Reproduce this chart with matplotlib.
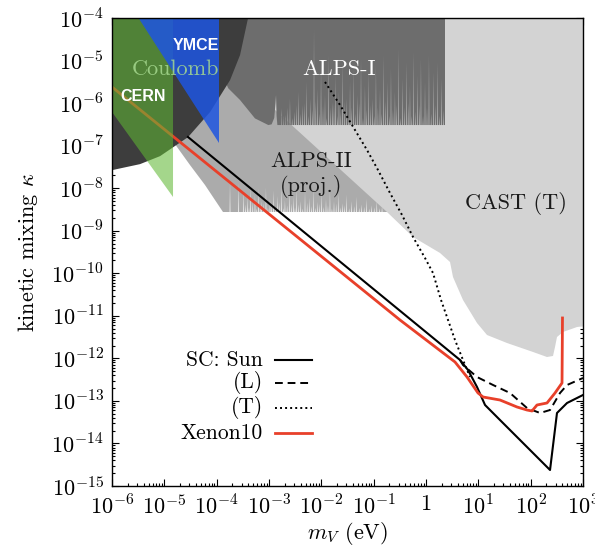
import numpy as np
import matplotlib
matplotlib.use("Agg")
import matplotlib.pyplot as plt
from matplotlib.ticker import FixedLocator, FixedFormatter, NullFormatter

plt.rcParams['mathtext.fontset'] = 'cm'
plt.rcParams['font.family'] = ['cmr10', 'DejaVu Serif']
plt.rcParams['axes.unicode_minus'] = False
plt.rcParams['axes.formatter.use_mathtext'] = True

# ---------------- data (all values are log10) ----------------
x_tick_exp = [-6, -5, -4, -3, -2, -1, 0, 1, 2, 3]
x_tick_labels = [r'$10^{-6}$', r'$10^{-5}$', r'$10^{-4}$', r'$10^{-3}$', r'$10^{-2}$',
                 r'$10^{-1}$', r'$1$', r'$10^{1}$', r'$10^{2}$', r'$10^{3}$']
y_tick_exp = [-15, -14, -13, -12, -11, -10, -9, -8, -7, -6, -5, -4]
y_tick_labels = [r'$10^{-15}$', r'$10^{-14}$', r'$10^{-13}$', r'$10^{-12}$', r'$10^{-11}$',
                 r'$10^{-10}$', r'$10^{-9}$', r'$10^{-8}$', r'$10^{-7}$', r'$10^{-6}$',
                 r'$10^{-5}$', r'$10^{-4}$']

# Sun stellar cooling, solid
sun_logm = [-4.548, 0.650, 0.803, 0.975, 1.128, 1.414, 1.930, 2.370, 2.503, 2.695, 3.0]
sun_logk = [-6.797, -12.038, -12.274, -12.673, -13.096, -13.449, -14.083, -14.624, -13.284, -13.049, -12.861]
# (L) dashed
sunL_logm = [0.650, 0.707, 0.975, 1.281, 1.606, 1.930, 2.179, 2.370, 2.561, 2.695, 3.0]
sunL_logk = [-12.038, -12.156, -12.438, -12.626, -12.814, -13.167, -13.284, -13.214, -12.814, -12.626, -12.461]
# (T) dotted
sunT_logm = [-1.930, -1.643, -1.357, -1.127, -0.917, -0.688, -0.458, -0.248, -0.019, 0.134,
             0.287, 0.401, 0.554, 0.707, 0.841]
sunT_logk = [-5.504, -6.045, -6.632, -7.103, -7.573, -8.113, -8.630, -9.147, -9.641, -9.994,
             -10.628, -11.028, -11.568, -12.038, -12.438]
# Xenon10
xenon_logm = [-6.0, -0.497, 0.554, 0.784, 0.994, 1.090, 1.414, 1.739, 1.930, 2.026, 2.121,
              2.312, 2.465, 2.599, 2.608]
xenon_logk = [-5.622, -11.098, -12.085, -12.438, -12.814, -12.908, -12.979, -13.143, -13.214,
              -13.237, -13.096, -13.049, -12.814, -12.579, -11.051]

# Coulomb (dark region)
coulomb_logm = [-6.3, -6.0, -5.465, -5.082, -4.547, -4.126, -3.744, -3.553, -3.40, -3.30, -6.3]
coulomb_logk = [-7.65, -7.576, -7.435, -7.247, -6.80, -6.21, -5.46, -4.87, -4.0, -3.5, -3.5]
# CERN (green)
cern_logm = [-6.3, -4.834, -4.834, -6.3]
cern_logk = [-3.5, -3.5, -8.207, -5.695]
# YMCE (blue)
ymce_logm = [-5.744, -3.955, -3.955]
ymce_logk = [-3.5, -3.5, -6.938]
# CAST (T)
cast_logm = [-5.26, 3.2, 3.2, 2.886, 2.618, 2.503, 2.465, 2.427, 2.312, 2.045, 1.548, 1.166,
             0.975, 0.707, 0.516, 0.459, 0.268, -0.248, -0.745, -2.465]
cast_logk = [-3.5, -3.5, -11.216, -11.263, -11.380, -11.498, -11.733, -11.944, -11.968, -11.850,
             -11.639, -11.451, -11.169, -10.628, -10.088, -9.735, -9.523, -9.147, -8.560, -6.632]

# ALPS-I
alps1_edge_logm = [-4.318, -4.032, -3.777, -3.554, -3.268, -3.013, -2.95, -2.90, -2.875, -2.866, -2.855, -2.84]
alps1_edge_logk = [-3.5, -4.987, -5.654, -5.927, -6.36, -6.516, -6.50, -6.35, -6.0, -5.811, -6.3, -6.516]
alps1_floor = -6.516
alps1_end = 0.363
alps1_spike_logm = [-2.758, -2.682, -2.599, -2.516, -2.440, -2.363, -2.280, -2.204, -2.140, -2.070,
                    -2.006, -1.930, -1.866, -1.790, -1.726, -1.663, -1.592, -1.516, -1.452, -1.389,
                    -1.306, -1.242, -1.166, -1.102, -1.026, -0.956, -0.879, -0.815, -0.733, -0.669,
                    -0.593, -0.529, -0.452, -0.376, -0.306, -0.236, -0.159, -0.096, -0.019, 0.057,
                    0.140, 0.217, 0.299,
                    -2.720, -2.640, -2.558, -2.478, -2.402, -2.322, -2.242, -2.172, -2.105, -2.038,
                    -1.968, -1.898, -1.828, -1.758, -1.695, -1.628, -1.554, -1.484, -1.420, -1.348,
                    -1.274, -1.204, -1.134, -1.064, -0.991, -0.918, -0.847, -0.774, -0.701, -0.631,
                    -0.561, -0.490, -0.414, -0.341, -0.271, -0.197, -0.127, -0.057, 0.019, 0.098,
                    0.178, 0.258, 0.335]
alps1_spike_logk = [-6.124, -6.281, -5.889, -6.203, -5.733, -6.046, -5.497, -5.889, -4.243, -5.654,
                    -5.106, -5.811, -4.870, -5.968, -5.341, -5.733, -5.027, -5.889, -5.497, -5.184,
                    -5.811, -4.949, -5.576, -5.262, -5.889, -5.106, -5.654, -4.870, -5.497, -5.184,
                    -5.733, -4.714, -5.419, -5.027, -5.576, -4.792, -5.341, -4.949, -5.497, -4.870,
                    -5.262, -5.027, -5.419,
                    -6.30, -6.10, -6.35, -6.05, -6.25, -6.00, -6.30, -6.15, -5.95, -6.25,
                    -6.05, -6.35, -6.10, -6.00, -6.30, -6.20, -5.95, -6.30, -6.10, -6.25,
                    -6.00, -6.35, -6.15, -6.05, -6.30, -6.10, -6.25, -5.95, -6.30, -6.15,
                    -6.05, -6.35, -6.10, -6.00, -6.30, -6.20, -6.05, -6.30, -6.10, -6.25,
                    -6.05, -6.30, -6.15]

# ALPS-II (proj.)
alps2_edge_logm = [-5.4, -5.274, -4.853, -4.510, -4.223, -4.032, -3.879]
alps2_edge_logk = [-3.5, -4.987, -6.868, -7.455, -7.925, -8.278, -8.560]
alps2_floor = -8.560
alps2_end = -0.40
alps2_spike_logm = [-3.745, -3.580, -3.491, -3.414, -3.351, -3.268, -3.198, -3.140, -3.058, -2.981,
                    -2.917, -2.841, -2.758, -2.695, -2.612, -2.535, -2.471, -2.395, -2.312, -2.229,
                    -2.153, -2.077, -1.994, -1.911, -1.835, -1.758, -1.675, -1.593, -1.516, -1.421,
                    -1.325, -1.229, -1.134, -1.038, -0.94, -0.84,
                    -3.452, -3.382, -3.310, -3.233, -3.169, -3.099, -3.020, -2.949, -2.879, -2.800,
                    -2.727, -2.654, -2.574, -2.503, -2.433, -2.354, -2.271, -2.191, -2.115, -2.036,
                    -1.953, -1.873, -1.797, -1.717, -1.634, -1.555, -1.469, -1.373, -1.277, -1.182,
                    -1.086, -0.99, -0.89]
alps2_spike_logk = [-7.847, -7.886, -8.05, -8.20, -7.95, -8.15, -8.00, -8.30, -7.98, -8.25,
                    -8.05, -8.18, -7.95, -8.28, -8.05, -8.20, -8.00, -8.30, -8.08, -8.22,
                    -8.02, -8.32, -8.10, -8.25, -8.05, -8.30, -8.12, -8.35, -8.15, -8.30,
                    -8.20, -8.38, -8.25, -8.40, -8.30, -8.42,
                    -8.38, -8.45, -8.32, -8.48, -8.40, -8.35, -8.46, -8.38, -8.44, -8.33,
                    -8.47, -8.40, -8.36, -8.45, -8.38, -8.48, -8.34, -8.42, -8.46, -8.37,
                    -8.44, -8.40, -8.48, -8.36, -8.45, -8.40, -8.47, -8.42, -8.46, -8.44,
                    -8.48, -8.45, -8.47]


def comb_region(edge_m, edge_k, spike_m, spike_k, floor, end, half_w):
    xs = list(edge_m)
    ys = list(edge_k)
    order = np.argsort(spike_m)
    for i in order:
        sm, sk = spike_m[i], spike_k[i]
        xs += [sm - half_w, sm, sm + half_w]
        ys += [floor, sk, floor]
    xs += [end, end]
    ys += [floor, -3.5]
    return 10 ** np.array(xs), 10 ** np.array(ys)


def p10(a):
    return 10 ** np.asarray(a, dtype=float)


fig = plt.figure(figsize=(5.95, 5.55), dpi=100)
ax = fig.add_axes([112 / 595, 69 / 555, 471 / 595, 468 / 555])
ax.set_xscale('log')
ax.set_yscale('log')

# regions
x2, y2 = comb_region(alps2_edge_logm, alps2_edge_logk, alps2_spike_logm, alps2_spike_logk,
                     alps2_floor, alps2_end, 0.007)
ax.fill(x2, y2, color='#ababab', lw=0, zorder=1)
ax.fill(p10(cast_logm), p10(cast_logk), color='#d3d3d3', lw=0, zorder=2)
x1, y1 = comb_region(alps1_edge_logm, alps1_edge_logk, alps1_spike_logm, alps1_spike_logk,
                     alps1_floor, alps1_end, 0.006)
ax.fill(x1, y1, color='#6d6d6d', lw=0, zorder=3)
ax.fill(p10(coulomb_logm), p10(coulomb_logk), color='#3d3d3d', lw=0, zorder=4)

# lines
ax.plot(p10(sun_logm), p10(sun_logk), color='black', lw=1.5, zorder=5)
ax.plot(p10(sunL_logm), p10(sunL_logk), color='black', lw=1.4, dashes=(4, 2.5), zorder=5)
ax.plot(p10(sunT_logm), p10(sunT_logk), color='black', lw=1.4, dashes=(1, 1.6), zorder=5)
ax.plot(p10(xenon_logm), p10(xenon_logk), color='#e8402a', lw=2.0, zorder=6)

ax.fill(p10(cern_logm), p10(cern_logk), color=(96 / 255, 184 / 255, 51 / 255), alpha=0.57, lw=0, zorder=7)
ax.fill(p10(ymce_logm), p10(ymce_logk), color=(30 / 255, 85 / 255, 225 / 255), alpha=0.85, lw=0, zorder=8)

# texts
ax.text(0.1783, 0.9423, 'YMCE', transform=ax.transAxes, color='white', fontsize=11.5,
        fontweight='bold', family='Liberation Sans', ha='center', va='center', zorder=10)
ax.text(0.0658, 0.8333, 'CERN', transform=ax.transAxes, color='white', fontsize=11.5,
        fontweight='bold', family='Liberation Sans', ha='center', va='center', zorder=10)
ax.text(0.1338, 0.8910, 'Coulomb', transform=ax.transAxes, color='#a6d98f', alpha=0.85,
        fontsize=16, ha='center', va='center', zorder=10)
ax.text(0.4820, 0.8910, 'ALPS-I', transform=ax.transAxes, color='white', fontsize=16,
        ha='center', va='center', zorder=10)
ax.text(0.4225, 0.6944, 'ALPS-II', transform=ax.transAxes, color='#1a1a1a', fontsize=16,
        ha='center', va='center', zorder=10)
ax.text(0.4225, 0.6389, '(proj.)', transform=ax.transAxes, color='#1a1a1a', fontsize=16,
        ha='center', va='center', zorder=10)
ax.text(0.8577, 0.6047, 'CAST (T)', transform=ax.transAxes, color='#1a1a1a', fontsize=16,
        ha='center', va='center', zorder=10)

# manual legend
leg_labels = ['SC: Sun', '(L)', '(T)', 'Xenon10']
leg_y = [0.2692, 0.2201, 0.1667, 0.1132]
leg_styles = [dict(color='black', lw=1.5), dict(color='black', lw=1.4, dashes=(4, 2.5)),
              dict(color='black', lw=1.4, dashes=(1, 1.6)), dict(color='#e8402a', lw=2.0)]
for lab, yy, st in zip(leg_labels, leg_y, leg_styles):
    ax.text(0.3206, yy, lab, transform=ax.transAxes, fontsize=15.5, ha='right', va='center', zorder=10)
    ax.plot([0.3461, 0.4246], [yy, yy], transform=ax.transAxes, zorder=10, **st)

ax.set_xlim(1e-6, 1e3)
ax.set_ylim(1e-15, 1e-4)

ax.xaxis.set_major_locator(FixedLocator(p10(x_tick_exp)))
ax.xaxis.set_major_formatter(FixedFormatter(x_tick_labels))
ax.yaxis.set_major_locator(FixedLocator(p10(y_tick_exp)))
ax.yaxis.set_major_formatter(FixedFormatter(y_tick_labels))
xmin = [m * 10.0 ** e for e in range(-6, 3) for m in range(2, 10)]
ymin = [m * 10.0 ** e for e in range(-15, -4) for m in range(2, 10)]
ax.xaxis.set_minor_locator(FixedLocator(xmin))
ax.yaxis.set_minor_locator(FixedLocator(ymin))
ax.xaxis.set_minor_formatter(NullFormatter())
ax.yaxis.set_minor_formatter(NullFormatter())

ax.tick_params(which='both', direction='in', top=True, right=True, width=0.8, zorder=12)
ax.tick_params(which='major', length=5)
ax.tick_params(which='minor', length=2.5)
ax.tick_params(axis='x', which='major', labelsize=16, pad=6)
ax.tick_params(axis='y', which='major', labelsize=16, pad=6)
for s in ax.spines.values():
    s.set_linewidth(1.0)
    s.set_zorder(12)

ax.set_xlabel(r'$m_V$ (eV)', fontsize=16, labelpad=1)
ax.set_ylabel(r'kinetic mixing $\kappa$', fontsize=16, labelpad=8)

fig.savefig('out.png', dpi=100)
